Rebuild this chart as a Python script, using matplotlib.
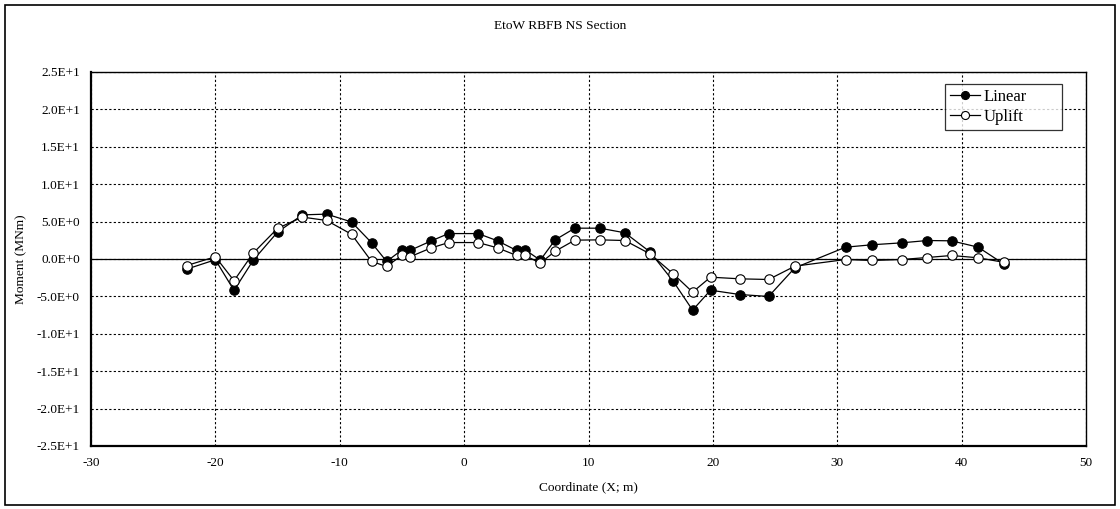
import matplotlib
matplotlib.use("Agg")
import matplotlib.pyplot as plt
from matplotlib.patches import Rectangle
from matplotlib.ticker import MultipleLocator, FuncFormatter

plt.rcParams['font.family'] = ['Liberation Serif', 'DejaVu Serif']
plt.rcParams['axes.unicode_minus'] = False

x_coord = [-22.3, -20.0, -18.5, -16.95, -15.0, -13.0, -11.05, -9.05, -7.44, -6.23,
           -5.03, -4.36, -2.7, -1.25, 1.12, 2.69, 4.22, 4.91, 6.12, 7.32,
           8.9, 10.92, 12.93, 14.94, 16.81, 18.37, 19.81, 22.17, 24.48, 26.59,
           30.67, 32.78, 35.17, 37.23, 39.19, 41.33, 43.42]
linear = [-1.35, -0.1, -4.2, -0.15, 3.6, 5.9, 6.0, 4.95, 2.17, -0.33,
          1.18, 1.14, 2.38, 3.4, 3.4, 2.43, 1.14, 1.23, -0.16, 2.56,
          4.12, 4.12, 3.5, 0.96, -2.97, -6.84, -4.17, -4.75, -5.01, -1.18,
          1.58, 1.9, 2.16, 2.47, 2.43, 1.58, -0.7]
uplift = [-0.87, 0.3, -2.9, 0.8, 4.1, 5.6, 5.15, 3.3, -0.33, -1.0,
          0.47, 0.29, 1.45, 2.2, 2.2, 1.49, 0.47, 0.47, -0.56, 1.04,
          2.52, 2.56, 2.47, 0.69, -1.98, -4.43, -2.43, -2.65, -2.74, -0.96,
          -0.07, -0.2, -0.07, 0.2, 0.47, 0.16, -0.45]

fig = plt.figure(figsize=(11.2, 5.09), dpi=100)
ax = fig.add_axes([91/1120, 1 - 446/509, (1086-91)/1120, (446-72)/509])

ax.plot(x_coord, linear, color='black', lw=0.9, marker='o', ms=6.8,
        mfc='black', mec='black', mew=0.8, label='Linear', zorder=4)
ax.plot(x_coord, uplift, color='black', lw=0.9, marker='o', ms=6.8,
        mfc='white', mec='black', mew=0.8, label='Uplift', zorder=5)

ax.set_xlim(-30, 50)
ax.set_ylim(-25, 25)
ax.xaxis.set_major_locator(MultipleLocator(10))
ax.yaxis.set_major_locator(MultipleLocator(5))

def sci(v, pos):
    s = "%.1E" % v
    mant, exp = s.split('E')
    e = int(exp)
    sign = '+' if e >= 0 else '-'
    return "%sE%s%d" % (mant, sign, abs(e))
ax.yaxis.set_major_formatter(FuncFormatter(sci))

ax.grid(True, color='black', linestyle=(0, (2, 2)), linewidth=0.8)
ax.axhline(0, color='black', lw=0.9, zorder=3)
ax.tick_params(length=0, labelsize=9.5, pad=8)
for s in ['left', 'bottom']:
    ax.spines[s].set_linewidth(1.6)
for s in ['top', 'right']:
    ax.spines[s].set_linewidth(1.0)

ax.set_xlabel('Coordinate (X; m)', fontsize=9.6, labelpad=9)
ax.set_ylabel('Moment (MNm)', fontsize=9.6, labelpad=7)
fig.text(0.5, 1 - 26/509, 'EtoW RBFB NS Section', ha='center', va='center', fontsize=9.6)

lx0 = (945 - 91) / 995
lw_ = (1062 - 945) / 995
ly1 = (446 - 84) / 374
leg = ax.legend(loc='upper left', bbox_to_anchor=(lx0, ly1 - 0.2, lw_, 0.2), mode='expand',
                fontsize=12, frameon=True, fancybox=False, edgecolor='black',
                handlelength=1.8, handletextpad=0.2, borderpad=0.3, labelspacing=0.25,
                borderaxespad=0, markerscale=0.85)
leg.get_frame().set_linewidth(0.9)

fig.patches.append(Rectangle((5/1120, 4/509), 1110/1120, 500/509, transform=fig.transFigure,
                             fill=False, edgecolor='black', lw=1.2))

fig.savefig('out.png', dpi=100)
